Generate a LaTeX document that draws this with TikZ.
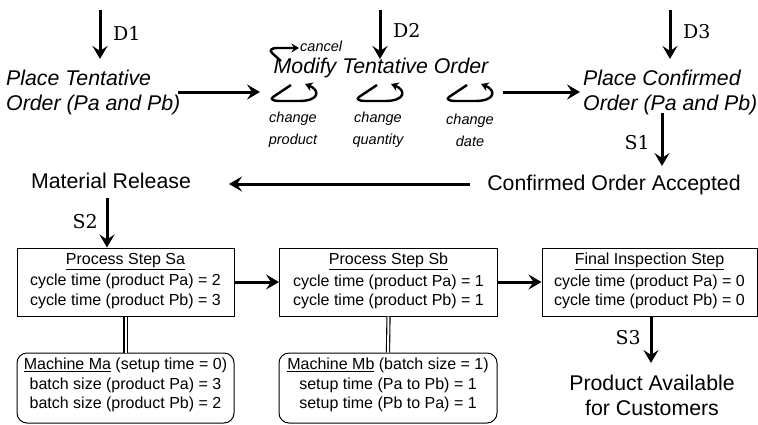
\documentclass[tikz,border=0pt]{standalone}
\usepackage{fontspec}
\setmainfont{Liberation Sans}
\newfontfamily\labelserif{DejaVu Serif}
\usetikzlibrary{arrows.meta}

\tikzset{
  arr/.style={line width=3pt, -{Stealth[length=13pt,width=15pt,inset=5pt]}},
  thinarr/.style={line width=2.4pt, -{Stealth[length=7.5pt,width=9pt,inset=2.5pt]}},
  bigtxt/.style={inner sep=0pt, font=\fontsize{21.3}{25}\selectfont},
  itxt/.style={inner sep=0pt, font=\fontsize{21.3}{25}\selectfont\itshape},
  smalli/.style={inner sep=0pt, align=center, font=\fontsize{14.5}{22}\selectfont\itshape},
  dlabel/.style={inner sep=0pt, font=\fontsize{19}{22}\selectfont\labelserif},
  boxtxt/.style={inner sep=0pt, align=center, font=\fontsize{16}{19.5}\selectfont},
  stepbox/.style={draw, line width=1pt, minimum width=217pt, minimum height=68pt, inner sep=0pt},
  machbox/.style={stepbox, rounded corners=10pt, minimum height=70pt},
  link/.style={double, double distance=2pt, line width=1.1pt},
  pics/chloop/.style={code={
    \draw[thinarr] (0,0) -- (-18,12) .. controls (-21,14) and (-18,16) .. (-12,16)
      -- (8,16) .. controls (29,16) and (29,5) .. (14,-1);
  }}
}

\begin{document}
\begin{tikzpicture}[x=1pt, y=-1pt]
\useasboundingbox (0,0) rectangle (758,424);

% --- ordering stage ---
\node[itxt, anchor=west, align=left] (pto) at (6,92) {Place Tentative\\Order (Pa and Pb)};
\node[itxt] (mto) at (381,68) {Modify Tentative Order};
\node[itxt, anchor=west, align=left] (pco) at (583,92) {Place Confirmed\\Order (Pa and Pb)};

\coordinate (d1top) at (100,10);
\coordinate (d1end) at (100,59);
\coordinate (d2top) at (380,10);
\coordinate (d2end) at (380,59);
\coordinate (d3top) at (670,10);
\coordinate (d3end) at (670,59);
\draw[arr] (d1top) -- (d1end);
\draw[arr] (d2top) -- (d2end);
\draw[arr] (d3top) -- (d3end);
\node[dlabel, anchor=west] (d1) at (113,33) {D1};
\node[dlabel, anchor=west] (d2) at (393,30) {D2};
\node[dlabel, anchor=west] (d3) at (683,32) {D3};

\coordinate (t1s) at (178,92);
\coordinate (t1e) at (260,92);
\draw[arr] (t1s) -- (t1e);
\coordinate (t2s) at (503,92);
\coordinate (t2e) at (580,92);
\draw[arr] (t2s) -- (t2e);

% cancel and change loops around the modification
\coordinate (cans) at (281,61);
\coordinate (cane) at (299,48);
\draw[thinarr] (cans) -- (272,53) .. controls (269,50) and (272,48) .. (277,48) -- (cane);
\node[smalli, anchor=west] (cancel) at (300,46) {cancel};

\pic at (291,85) {chloop};
\pic at (377,85) {chloop};
\pic at (467,85) {chloop};
\node[smalli] (chp) at (293,130) {change\\product};
\node[smalli] (chq) at (378,130) {change\\quantity};
\node[smalli] (chd) at (470,130) {change\\date};

% --- acceptance and release ---
\node[bigtxt] (coa) at (614,185) {Confirmed Order Accepted};
\node[bigtxt] (mr) at (111,181) {Material Release};
\coordinate (s1top) at (662,113);
\coordinate (s1end) at (662,166);
\draw[arr] (s1top) -- (s1end);
\node[dlabel, anchor=east] (s1) at (650,143) {S1};
\coordinate (rs) at (470,184);
\coordinate (re) at (229,184);
\draw[arr] (rs) -- (re);

% --- process steps ---
\node[stepbox] (sa) at (125.5,282) {};
\node[stepbox, minimum width=218pt] (sb) at (388.5,282) {};
\node[stepbox, minimum width=215pt] (fin) at (649.5,282) {};
\node[boxtxt] (sat) at ([yshift=1pt]sa.center) {\underline{Process Step Sa}\\[2pt]cycle time (product Pa) = 2\\cycle time (product Pb) = 3};
\node[boxtxt] (sbt) at ([yshift=1pt]sb.center) {\underline{Process Step Sb}\\[2pt]cycle time (product Pa) = 1\\cycle time (product Pb) = 1};
\node[boxtxt] (fint) at ([yshift=1pt]fin.center) {\underline{Final Inspection Step}\\[2pt]cycle time (product Pa) = 0\\cycle time (product Pb) = 0};

\coordinate (s2top) at (107,198);
\draw[arr] (s2top) -- (s2top |- sa.north);
\node[dlabel, anchor=east] (s2) at (98,222) {S2};

\draw[arr] (sa.east) -- (sb.west);
\draw[arr] (sb.east) -- (fin.west);

% --- machines ---
\node[machbox] (ma) at (125.5,388) {};
\node[machbox, minimum width=218pt] (mb) at (388,388) {};
\node[boxtxt] (mat) at ([yshift=3pt]ma.center) {\underline{Machine Ma} (setup time = 0)\\batch size (product Pa) = 3\\batch size (product Pb) = 2};
\node[boxtxt] (mbt) at ([yshift=3pt]mb.center) {\underline{Machine Mb} (batch size = 1)\\setup time (Pa to Pb) = 1\\setup time (Pb to Pa) = 1};
\draw[link] (sa.south) -- (ma.north);
\draw[link] (sb.south) -- (mb.north);

% --- delivery ---
\node[bigtxt, align=center] (pac) at (652,395.5) {Product Available\\for Customers};
\coordinate (s3top) at (651,316);
\coordinate (s3end) at (651,363);
\draw[arr] (s3top) -- (s3end);
\node[dlabel, anchor=east] (s3) at (641,338) {S3};
\end{tikzpicture}
\end{document}
